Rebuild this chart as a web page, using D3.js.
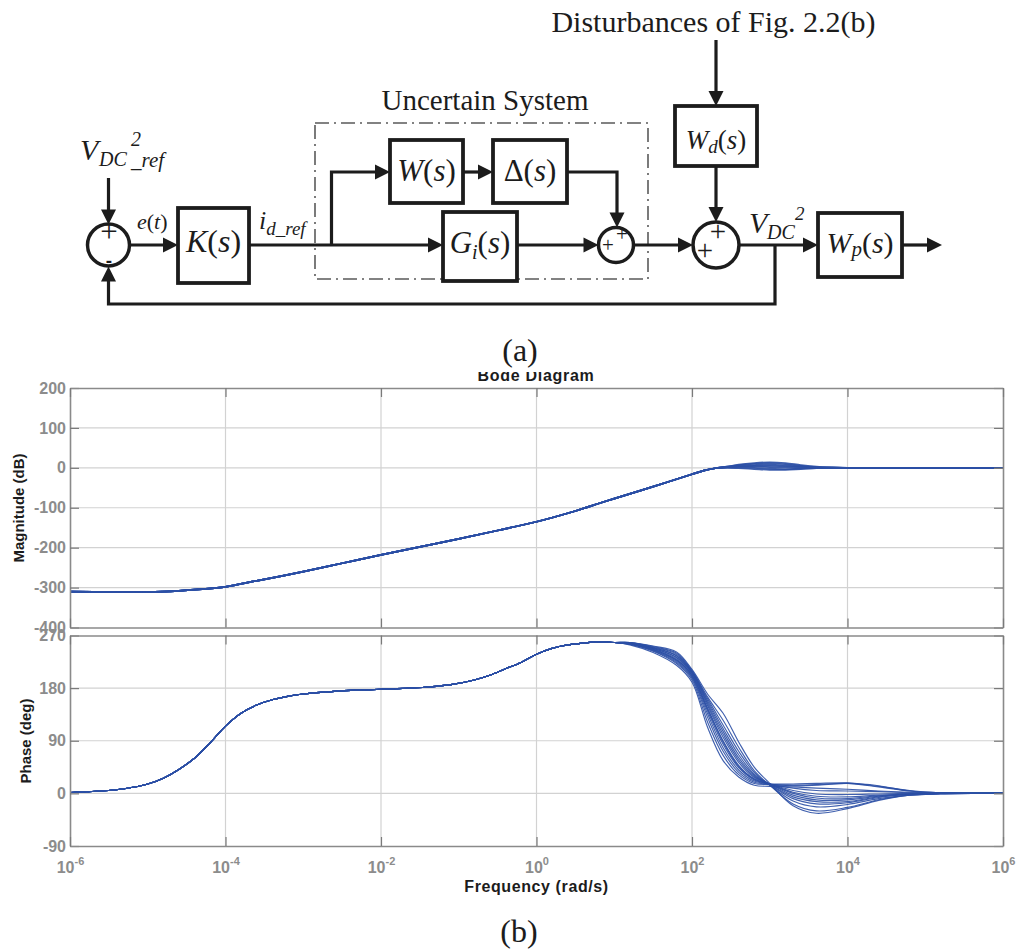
<!DOCTYPE html>
<html>
<head>
<meta charset="utf-8">
<script src="https://cdn.jsdelivr.net/npm/d3@7"></script>
<style>
  html, body { margin: 0; padding: 0; background: #fff; }
  svg { display: block; }
</style>
</head>
<body>
<svg id="fig" width="1016" height="949"></svg>
<script>
// ---------- Bode data (log10 of frequency in rad/s) ----------
const freqTickExps = [-6, -4, -2, 0, 2, 4, 6];
const magTicks = [200, 100, 0, -100, -200, -300, -400];
const phaseTicks = [270, 180, 90, 0, -90];

// magnitude: shared low/mid-frequency part
const magCommonLog = [-6, -5.5, -5, -4.6, -4.3, -4, -3.6, -3.3, -3, -2.5, -2, -1.5, -1, -0.5, 0, 0.5, 0.82, 1, 1.5, 2];
const magCommonDb  = [-310, -311, -311, -308, -304, -298, -283, -272, -260, -239, -218, -198, -178, -157, -135, -108, -88, -77, -47, -16];
// magnitude: high-frequency branch of each plant in the family
const magTailLog = [2.15, 2.3, 2.45, 2.6, 2.8, 3.0, 3.2, 3.4, 3.6, 3.8, 4.0, 4.5, 5, 6];
const magTails = [
  [-7, -1, 2, 4, 5, 5, 4, 3, 1, 0.5, 0, 0, 0, 0],
  [-7, -1, 3, 7, 10, 11, 9, 5, 2, 1, 0, 0, 0, 0],
  [-7, -1, 3, 8, 12, 14, 12, 7, 3, 1, 0, 0, 0, 0],
  [-7, -1, 1, 1, 0, -2, -3, -2, -1, 0, 0, 0, 0, 0],
  [-7, -1, 0, -1, -3, -5, -5, -3, -1, 0, 0, 0, 0, 0],
  [-7, -1, 2, 3, 3, 2, 1, 0, 0, 0, 0, 0, 0, 0],
  [-7, -1, 2, 5, 7, 8, 6, 3, 1, 0, 0, 0, 0, 0]
];

// phase: shared part
const phaseCommonLog = [-6, -5.6, -5.3, -5, -4.8, -4.6, -4.4, -4.2, -4, -3.8, -3.6, -3.4, -3.2, -3, -2.6, -2.2, -1.8, -1.4, -1.1, -0.8, -0.6, -0.4, -0.2, 0, 0.2, 0.4, 0.6, 0.8, 1.0];
const phaseCommonDeg = [1.5, 4, 8, 16, 26, 41, 60, 86, 115, 137, 151, 160, 166, 170, 174.5, 177, 179, 182, 186, 194, 202, 213, 224, 238, 248, 254, 257, 259, 258];
// phase: high-frequency branch of each plant
const phaseTailLog = [1.2, 1.5, 1.8, 2.0, 2.2, 2.4, 2.6, 2.8, 3.0, 3.3, 3.6, 4.0, 4.4, 4.8, 5.2, 5.6, 6];
const phaseTails = [
  [254, 241, 219, 190, 113, 56, 28, 14, 12, 11, 9, 7, 4, 2, 1, 0, 0],
  [255, 243, 222, 194, 122, 65, 32, 17, 15, 14, 15, 17, 11, 4, 1, 0, 0],
  [255, 244, 224, 197, 130, 72, 36, 19, 16, 16, 17, 18, 12, 5, 1, 0, 0],
  [256, 245, 226, 199, 136, 78, 40, 21, 16, 9, 5, 4, 3, 1, 0, 0, 0],
  [256, 246, 228, 201, 141, 84, 44, 23, 16, 5, -1, -2, -1, 0, 0, 0, 0],
  [256, 247, 230, 203, 146, 90, 48, 25, 16, 2, -5, -6, -3, -1, 0, 0, 0],
  [257, 248, 232, 205, 150, 96, 53, 27, 16, 0, -8, -9, -4, -1, 0, 0, 0],
  [257, 248, 233, 206, 153, 101, 57, 29, 16, -3, -11, -11, -5, -1, 0, 0, 0],
  [257, 249, 235, 207, 156, 106, 61, 31, 15, -6, -14, -14, -6, -2, 0, 0, 0],
  [257, 249, 236, 208, 159, 111, 66, 33, 15, -9, -18, -16, -7, -2, 0, 0, 0],
  [258, 250, 238, 209, 162, 117, 72, 36, 14, -13, -23, -19, -9, -3, 0, 0, 0],
  [258, 251, 240, 210, 165, 125, 79, 39, 14, -18, -30, -24, -11, -3, -1, 0, 0],
  [258, 252, 242, 212, 170, 137, 88, 45, 17, -21, -34, -26, -12, -3, -1, 0, 0],
  [256, 246, 228, 202, 144, 88, 46, 24, 16, 13, 14, 17, 13, 4, 1, 0, 0]
];

// ---------- drawing ----------
const svg = d3.select("#fig");
const SERIF = "'Liberation Serif','Times New Roman',serif";
const SANS = "'Liberation Sans',Arial,sans-serif";
const INK = "#1c1c1c";

// ===== (a) block diagram =====
const dg = svg.append("g");

function wire(pts, w = 3.2) {
  dg.append("path").attr("d", d3.line()(pts))
    .attr("fill", "none").attr("stroke", INK).attr("stroke-width", w)
    .attr("stroke-linejoin", "miter");
}
function arrow(pts) {
  const n = pts.length;
  const [x1, y1] = pts[n - 2], [x2, y2] = pts[n - 1];
  const L = 15, W = 7.5;
  const len = Math.hypot(x2 - x1, y2 - y1), ux = (x2 - x1) / len, uy = (y2 - y1) / len;
  const bx = x2 - ux * L, by = y2 - uy * L;
  wire([...pts.slice(0, n - 1), [bx + ux, by + uy]]);
  dg.append("path")
    .attr("d", `M${x2},${y2}L${bx - uy * W},${by + ux * W}L${bx + uy * W},${by - ux * W}Z`)
    .attr("fill", INK);
}
function block(x, y, w, h) {
  dg.append("rect").attr("x", x).attr("y", y).attr("width", w).attr("height", h)
    .attr("fill", "#fff").attr("stroke", INK).attr("stroke-width", 3.8);
}
function junction(cx, cy, r) {
  dg.append("circle").attr("cx", cx).attr("cy", cy).attr("r", r)
    .attr("fill", "#fff").attr("stroke", INK).attr("stroke-width", 3.5);
}
// rich label: parts = [text, {italic, size, dy, dx}]
function label(x, y, parts, base, anchor = "middle") {
  const t = dg.append("text").attr("x", x).attr("y", y)
    .attr("font-family", SERIF).attr("font-size", base)
    .attr("fill", INK).attr("text-anchor", anchor);
  parts.forEach(([s, o = {}]) => {
    const ts = t.append("tspan").text(s);
    if (o.italic) ts.attr("font-style", "italic");
    if (o.size) ts.attr("font-size", o.size);
    if (o.dy) ts.attr("dy", o.dy);
    if (o.dx) ts.attr("dx", o.dx);
  });
  return t;
}
function plain(x, y, s, size, anchor = "middle", family = SERIF, weight = "normal") {
  return dg.append("text").attr("x", x).attr("y", y).text(s)
    .attr("font-family", family).attr("font-size", size).attr("font-weight", weight)
    .attr("fill", INK).attr("text-anchor", anchor);
}

const MY = 245;  // main signal path

// uncertain-system frame
dg.append("rect").attr("x", 315).attr("y", 123).attr("width", 333).attr("height", 156)
  .attr("fill", "none").attr("stroke", "#5a5a5a").attr("stroke-width", 1.6)
  .attr("stroke-dasharray", "14,5,2,5");
plain(485, 110, "Uncertain System", 29);
plain(713.5, 32, "Disturbances of Fig. 2.2(b)", 30);

// wires and arrows
arrow([[108.5, 178], [108.5, 224.5]]);
arrow([[129.5, MY], [178, MY]]);
arrow([[249, MY], [443, MY]]);
arrow([[331.5, MY], [331.5, 172], [390, 172]]);
arrow([[463, 172], [493, 172]]);
arrow([[567, 172], [617, 172], [617, 227.5]]);
arrow([[517, MY], [598.5, MY]]);
arrow([[633.5, MY], [693, MY]]);
arrow([[716, 40], [716, 106]]);
arrow([[716, 166], [716, 222]]);
arrow([[739, MY], [818, MY]]);
arrow([[775, MY], [775, 304], [108.5, 304], [108.5, 266.5]]);
arrow([[902, MY], [942, MY]]);

// blocks
block(178, 208, 71, 75);
block(390, 140, 73, 63);
block(493, 140, 74, 63);
block(443, 212, 74, 69);
block(675, 106, 82, 60);
block(818, 213, 84, 64);

// summing junctions
junction(108.5, MY, 21);
junction(616, MY, 17.5);
junction(716, MY, 23);

// junction signs
plain(109, 242, "+", 31);
plain(109, 266.5, "-", 19, "middle", SANS, "bold");
plain(622, 240.5, "+", 21);
plain(608, 252, "+", 21);
plain(718, 241, "+", 29);
plain(705, 259.5, "+", 29);

// block labels
label(213.5, 252, [["K", { italic: true }], ["("], ["s", { italic: true }], [")"]], 32);
label(426.5, 181, [["W", { italic: true }], ["("], ["s", { italic: true }], [")"]], 31);
label(530, 181, [["Δ"], ["("], ["s", { italic: true }], [")"]], 31);
label(480, 253, [["G", { italic: true }], ["i", { italic: true, size: 20, dy: 6 }], ["(", { dy: -6 }], ["s", { italic: true }], [")"]], 31);
label(716, 149, [["W", { italic: true }], ["d", { italic: true, size: 19, dy: 4 }], ["(", { dy: -4 }], ["s", { italic: true }], [")"]], 27);
label(860, 253, [["W", { italic: true }], ["p", { italic: true, size: 21, dy: 3 }], ["(", { dy: -3 }], ["s", { italic: true }], [")"]], 30);

// signal labels
label(137, 229, [["e", { italic: true }], ["("], ["t", { italic: true }], [")"]], 22, "start");
label(259, 229, [["i", { italic: true }], ["d_ref", { italic: true, size: 19, dy: 6 }]], 26, "start");
// V_DC^2 _ref
plain(80, 160, "V", 30, "start").attr("font-style", "italic");
plain(99, 166, "DC", 20, "start").attr("font-style", "italic");
plain(131, 146, "2", 20, "start").attr("font-style", "italic");
plain(131, 167, "_ref", 21, "start").attr("font-style", "italic");
// V_DC^2
plain(749, 233, "V", 30, "start").attr("font-style", "italic");
plain(767, 239, "DC", 20, "start").attr("font-style", "italic");
plain(795, 220, "2", 19, "start").attr("font-style", "italic");

plain(520, 361, "(a)", 32);
plain(519, 942, "(b)", 32);

// ===== (b) Bode diagram =====
const X0 = 70, X1 = 1003;
const x = d3.scaleLog().domain([1e-6, 1e6]).range([X0, X1]);
const yMag = d3.scaleLinear().domain([-400, 200]).range([627.5, 388]);
const yPh = d3.scaleLinear().domain([-90, 270]).range([846, 635.5]);
const freqTicks = freqTickExps.map(e => Math.pow(10, e));

const LINE = "#2b4fa5";
const FRAME = "#8a8a8a";
const GRID = "#d2d2d2";
const TICKTXT = "#8c8c8c";

const bode = svg.append("g");

function panel(id, y, ticks, curves, width) {
  const [yb, yt] = y.range();
  const g = bode.append("g");
  g.append("clipPath").attr("id", id).append("rect")
    .attr("x", X0).attr("y", yt).attr("width", X1 - X0).attr("height", yb - yt);

  // grid
  g.append("g").selectAll("line").data(freqTicks.slice(1, -1)).join("line")
    .attr("x1", d => x(d)).attr("x2", d => x(d)).attr("y1", yt).attr("y2", yb)
    .attr("stroke", GRID).attr("stroke-width", 1.2);
  g.append("g").selectAll("line").data(ticks.slice(1, -1)).join("line")
    .attr("x1", X0).attr("x2", X1).attr("y1", d => y(d)).attr("y2", d => y(d))
    .attr("stroke", GRID).attr("stroke-width", 1.2);

  // response curves
  const line = d3.line().x(d => x(Math.pow(10, d[0]))).y(d => y(d[1]))
    .curve(d3.curveCatmullRom.alpha(0.5));
  g.append("g").attr("clip-path", `url(#${id})`).selectAll("path").data(curves).join("path")
    .attr("d", line).attr("fill", "none").attr("stroke", LINE)
    .attr("stroke-width", width).attr("stroke-opacity", 0.9);

  // axes with inward ticks on all four sides
  const styleAxis = a => {
    a.select(".domain").attr("stroke", FRAME).attr("stroke-width", 1.6);
    a.selectAll(".tick line").attr("stroke", "#7a7a7a").attr("stroke-width", 1.2);
  };
  g.append("g").attr("transform", `translate(${X0},0)`)
    .call(d3.axisLeft(y).tickValues(ticks).tickSizeInner(-9).tickSizeOuter(0).tickPadding(4).tickFormat(d => String(d)))
    .call(styleAxis)
    .call(a => a.selectAll(".tick text").attr("font-family", SANS).attr("font-weight", "bold")
      .attr("font-size", 16).attr("fill", TICKTXT));
  g.append("g").attr("transform", `translate(${X1},0)`)
    .call(d3.axisRight(y).tickValues(ticks).tickSizeInner(-9).tickSizeOuter(0).tickFormat(""))
    .call(styleAxis);
  g.append("g").attr("transform", `translate(0,${yt})`)
    .call(d3.axisTop(x).tickValues(freqTicks).tickSizeInner(-9).tickSizeOuter(0).tickFormat(""))
    .call(styleAxis);
  const bottom = g.append("g").attr("transform", `translate(0,${yb})`)
    .call(d3.axisBottom(x).tickValues(freqTicks).tickSizeInner(-9).tickSizeOuter(0).tickPadding(16).tickFormat(""))
    .call(styleAxis);
  return bottom;
}

const magCurves = magTails.map(t =>
  magCommonLog.map((l, i) => [l, magCommonDb[i]]).concat(magTailLog.map((l, i) => [l, t[i]])));
const phaseCurves = phaseTails.map(t =>
  phaseCommonLog.map((l, i) => [l, phaseCommonDeg[i]]).concat(phaseTailLog.map((l, i) => [l, t[i]])));

panel("clipMag", yMag, magTicks, magCurves, 1.7);
const phBottom = panel("clipPh", yPh, phaseTicks, phaseCurves, 1.15);

// decade labels 10^n under the phase panel
phBottom.selectAll(".tick text").each(function (d) {
  const t = d3.select(this).text(null)
    .attr("font-family", SANS).attr("font-weight", "bold").attr("font-size", 16)
    .attr("fill", TICKTXT).attr("text-anchor", "middle");
  t.append("tspan").text("10");
  t.append("tspan").text(String(Math.round(Math.log10(d)))).attr("font-size", 11).attr("dy", "-0.75em");
});

// axis titles
const txt = (xx, yy, s, size) => bode.append("text").attr("x", xx).attr("y", yy).text(s)
  .attr("font-family", SANS).attr("font-weight", "bold").attr("font-size", size)
  .attr("fill", INK).attr("text-anchor", "middle");

txt(0, 0, "Magnitude (dB)", 15).attr("transform", "translate(24,508) rotate(-90)");
txt(0, 0, "Phase (deg)", 15).attr("transform", "translate(31,741) rotate(-90)");
txt(536.5, 892, "Frequency  (rad/s)", 16).attr("letter-spacing", 0.6);

// title, partly hidden under the (a) caption band
bode.append("clipPath").attr("id", "clipTitle").append("rect")
  .attr("x", 400).attr("y", 372).attr("width", 280).attr("height", 16);
txt(536, 381, "Bode Diagram", 16).attr("letter-spacing", 0.7).attr("clip-path", "url(#clipTitle)");
</script>
</body>
</html>
